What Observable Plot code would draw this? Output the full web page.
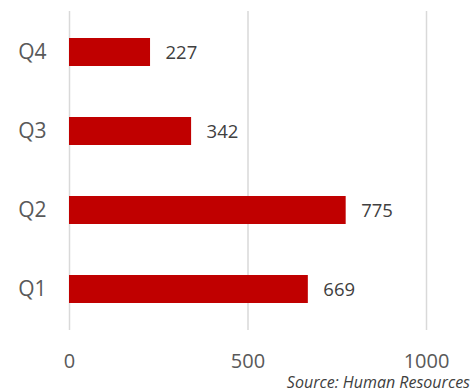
<!DOCTYPE html>
<html>
<head>
<meta charset="utf-8">
<script src="https://cdn.jsdelivr.net/npm/d3@7"></script>
<script src="https://cdn.jsdelivr.net/npm/@observablehq/plot@0.6"></script>
<style>
  html, body { margin: 0; padding: 0; background: #fff; }
  #wrap { position: relative; width: 471px; height: 392px; overflow: hidden; }
  #caption { position: absolute; right: 1px; top: 371px; line-height: 17px; font: italic 16px "Open Sans", sans-serif; color: #404040; white-space: nowrap; }
  #chart g[aria-label="y-axis tick label"] text { font-size: 21px; }
</style>
</head>
<body>
<div id="wrap">
  <div id="chart"></div>
  <div id="caption">Source: Human Resources</div>
</div>
<script>
const quarters = ["Q1", "Q2", "Q3", "Q4"];
const values = [669, 775, 342, 227];
const xTicks = [0, 500, 1000];
const sourceText = "Source: Human Resources";

const data = quarters.map((q, i) => ({quarter: q, value: values[i]}));

const chart = Plot.plot({
  width: 471,
  height: 392,
  marginLeft: 69,
  marginRight: 45,
  marginTop: 11,
  marginBottom: 62,
  style: {fontFamily: "'Open Sans', sans-serif", fontSize: "20px", color: "#595959", background: "#fff"},
  x: {domain: [0, 1000], ticks: xTicks, tickFormat: d => String(d), tickSize: 0, tickPadding: 23, label: null},
  y: {domain: quarters.slice().reverse(), paddingInner: 0.644, paddingOuter: 0.322, tickSize: 0, tickPadding: 23, label: null},
  marks: [
    Plot.gridX(xTicks, {stroke: "#d9d9d9", strokeOpacity: 1, strokeWidth: 1.5}),
    Plot.barX(data, {x: "value", y: "quarter", fill: "#c00000"}),
    Plot.text(data, {x: "value", y: "quarter", text: d => String(d.value), textAnchor: "start", dx: 15, dy: 1, fill: "#404040", fontSize: 18.5})
  ]
});
document.getElementById("chart").appendChild(chart);
document.getElementById("caption").textContent = sourceText;
</script>
</body>
</html>
